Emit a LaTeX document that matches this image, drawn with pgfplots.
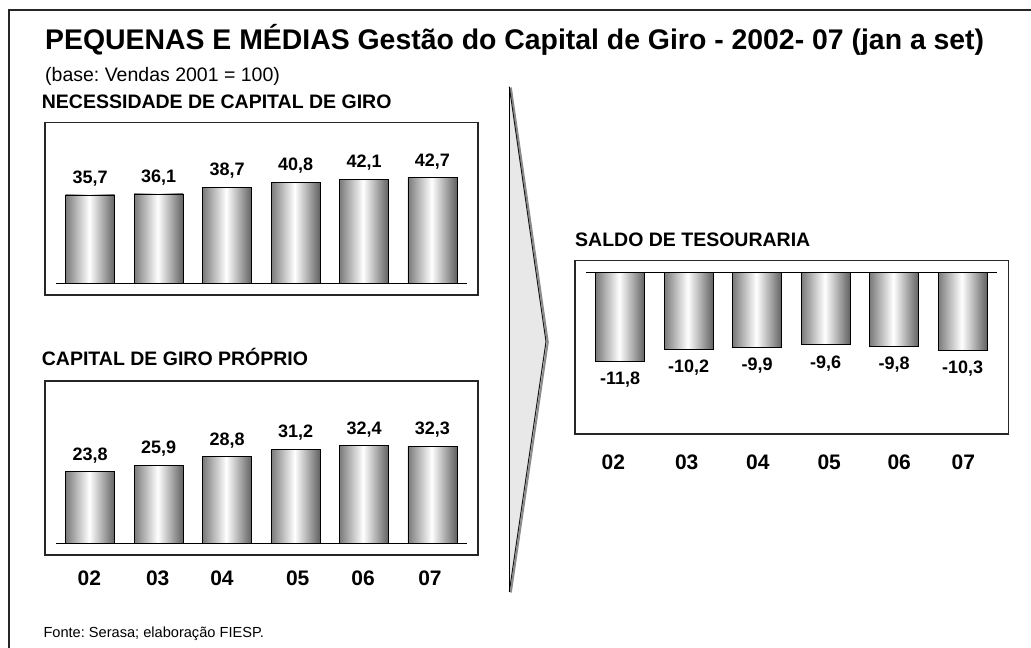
\documentclass[border=0pt]{standalone}
\usepackage{pgfplots}
\pgfplotsset{compat=1.18}
\usepackage{fontspec}
\setmainfont{Liberation Sans}
\frenchspacing

\pgfdeclarehorizontalshading{barshade}{100bp}{color(0bp)=(black!52); color(25bp)=(black!52); color(49bp)=(white); color(75bp)=(black!62); color(100bp)=(black!62)}

\pgfplotsset{
  panel/.style={scale only axis, width=433.3pt, anchor=south west,
    axis line style={line width=1.6pt, black!85},
    xmin=-0.665, xmax=5.665, ytick=\empty, major tick length=0pt, clip=false,
    /pgf/number format/use comma, /pgf/number format/fixed,
    /pgf/number format/fixed zerofill, /pgf/number format/precision=1,
    /pgf/number format/assume math mode=true},
  cyl/.style={ybar, bar width=49pt, bar shift=0pt, draw=black, line width=0.8pt, shade, shading=barshade},
  posl/.style={nodes near coords, every node near coord/.append style={font=\fontsize{18}{18}\selectfont\bfseries, anchor=base, inner sep=0pt, yshift=11.6pt, text=black}},
  negl/.style={nodes near coords, every node near coord/.append style={font=\fontsize{18}{18}\selectfont\bfseries, anchor=north, inner sep=0pt, yshift=-10.4pt, text=black}},
}

\begin{document}
\begin{tikzpicture}[x=1pt,y=1pt]
\useasboundingbox (0,0) rectangle (1031,648);
\draw[line width=1.5pt, black!85] (9,-1) -- (9,638) -- (1032,638);

\node[anchor=base west, inner sep=0pt, font=\fontsize{28.4}{28}\selectfont\bfseries] at (45,598) {PEQUENAS E MÉDIAS Gestão do Capital de Giro - 2002- 07 (jan a set)};
\node[anchor=base west, inner sep=0pt, font=\fontsize{19.5}{20}\selectfont] at (45,566.5) {(base: Vendas 2001 = 100)};
\node[anchor=base west, inner sep=0pt, font=\fontsize{19.5}{20}\selectfont\bfseries] at (41.7,539.7) {NECESSIDADE DE CAPITAL DE GIRO};
\node[anchor=base west, inner sep=0pt, font=\fontsize{19.5}{20}\selectfont\bfseries] at (41.7,282) {CAPITAL DE GIRO PRÓPRIO};
\node[anchor=base west, inner sep=0pt, font=\fontsize{19.5}{20}\selectfont\bfseries] at (575,401.3) {SALDO DE TESOURARIA};
\node[anchor=base west, inner sep=0pt, font=\fontsize{14.6}{15}\selectfont] at (43.3,10.5) {Fonte: Serasa; elaboração FIESP.};

% arrow
\fill[black!9] (509.3,561.3) -- (546,306.3) -- (509.3,56.3) -- cycle;
\draw[black!45, line width=2pt] (510.8,560.5) -- (547.8,305.8) -- (510.8,55.5);
\draw[black!90, line width=1pt] (509.3,561.3) -- (546,306.3) -- (509.3,56.3);
\draw[black, line width=0.8pt] (509.3,561.3) -- (509.3,56.3);

% panel 1
\begin{axis}[panel, at={(44.7pt,353pt)}, height=172.3pt, ymin=-4.7, ymax=64.9, xtick=\empty]
\addplot[cyl,posl] coordinates {(0,35.7)};
\addplot[cyl,posl] coordinates {(1,36.1)};
\addplot[cyl,posl] coordinates {(2,38.7)};
\addplot[cyl,posl] coordinates {(3,40.8)};
\addplot[cyl,posl] coordinates {(4,42.1)};
\addplot[cyl,posl] coordinates {(5,42.7)};
\draw[line width=0.8pt] (axis cs:-0.5,0) -- (axis cs:5.5,0);
\end{axis}

% panel 2
\begin{axis}[panel, at={(44.7pt,93pt)}, height=174pt, ymin=-4, ymax=54,
  xtick={-0.013,0.986,1.925,3.031,3.985,4.963}, xticklabels={02,03,04,05,06,07},
  xticklabel style={font=\fontsize{21}{21}\selectfont\bfseries, anchor=north, inner sep=0pt, yshift=-16pt}]
\addplot[cyl,posl] coordinates {(0,23.8)};
\addplot[cyl,posl] coordinates {(1,25.9)};
\addplot[cyl,posl] coordinates {(2,28.8)};
\addplot[cyl,posl] coordinates {(3,31.2)};
\addplot[cyl,posl] coordinates {(4,32.4)};
\addplot[cyl,posl] coordinates {(5,32.3)};
\draw[line width=0.8pt] (axis cs:-0.5,0) -- (axis cs:5.5,0);
\end{axis}

% panel 3
\begin{axis}[panel, at={(574.7pt,213.7pt)}, width=433.6pt, height=173.6pt, xmin=-0.664, xmax=5.666, ymin=-21.46, ymax=1.54,
  xtick={-0.10,0.971,2.009,3.051,4.073,5.009}, xticklabels={02,03,04,05,06,07},
  xticklabel style={font=\fontsize{21}{21}\selectfont\bfseries, anchor=north, inner sep=0pt, yshift=-20.7pt}]
\addplot[cyl,negl] coordinates {(0,-11.8)};
\addplot[cyl,negl] coordinates {(1,-10.2)};
\addplot[cyl,negl] coordinates {(2,-9.9)};
\addplot[cyl,negl] coordinates {(3,-9.6)};
\addplot[cyl,negl] coordinates {(4,-9.8)};
\addplot[cyl,negl] coordinates {(5,-10.3)};
\draw[line width=0.8pt] (axis cs:-0.5,0) -- (axis cs:5.5,0);
\end{axis}
\end{tikzpicture}
\end{document}
